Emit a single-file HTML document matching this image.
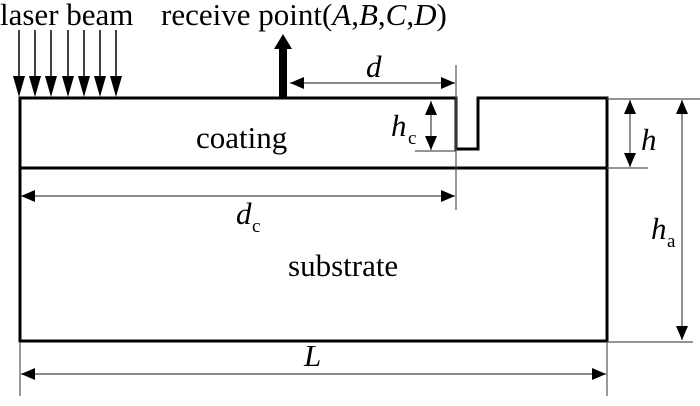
<!DOCTYPE html>
<html><head><style>
body{margin:0;background:#fff}
svg text{font-family:"Liberation Serif",serif;fill:#000}
</style></head><body>
<svg width="700" height="401" viewBox="0 0 700 401" xmlns="http://www.w3.org/2000/svg">
<defs>
<marker id="b" markerWidth="14" markerHeight="12" refX="14" refY="6" orient="auto-start-reverse" markerUnits="userSpaceOnUse" viewBox="0 0 14 12"><path d="M0,0 L14,6 L0,12 Z" fill="#000"/></marker>
</defs>
<g stroke="#000" stroke-width="1.5">
<line x1="19" y1="30" x2="19" y2="80"/>
<line x1="35" y1="30" x2="35" y2="80"/>
<line x1="51" y1="30" x2="51" y2="80"/>
<line x1="68" y1="30" x2="68" y2="80"/>
<line x1="84" y1="30" x2="84" y2="80"/>
<line x1="100" y1="30" x2="100" y2="80"/>
<line x1="116" y1="30" x2="116" y2="80"/>
</g>
<g fill="#000">
<path d="M13,76 H25 L19,97 Z"/>
<path d="M29,76 H41 L35,97 Z"/>
<path d="M45,76 H57 L51,97 Z"/>
<path d="M62,76 H74 L68,97 Z"/>
<path d="M78,76 H90 L84,97 Z"/>
<path d="M94,76 H106 L100,97 Z"/>
<path d="M110,76 H122 L116,97 Z"/>
</g>
<path d="M20,98 H456 V149 H478 V98 H607 V341 H20 Z" fill="none" stroke="#000" stroke-width="3"/>
<line x1="20" y1="168" x2="607" y2="168" stroke="#000" stroke-width="3"/>
<rect x="279" y="48" width="8" height="50" fill="#000"/>
<path d="M274,49 L283,34 L292,49 Z" fill="#000"/>
<g stroke="#555" stroke-width="1.2" fill="none">
<line x1="456" y1="65" x2="456" y2="210"/>
<line x1="415" y1="151" x2="456" y2="151"/>
<line x1="607" y1="99" x2="700" y2="99"/>
<line x1="607" y1="168" x2="648" y2="168"/>
<line x1="607" y1="342" x2="693" y2="342"/>
<line x1="20" y1="342" x2="20" y2="396"/>
<line x1="607" y1="342" x2="607" y2="396"/>
</g>
<g stroke="#444" stroke-width="1.2">
<line x1="290" y1="83" x2="455" y2="83" marker-start="url(#b)" marker-end="url(#b)"/>
<line x1="431" y1="101" x2="431" y2="150" marker-start="url(#b)" marker-end="url(#b)"/>
<line x1="21" y1="196" x2="455" y2="196" marker-start="url(#b)" marker-end="url(#b)"/>
<line x1="630" y1="100" x2="630" y2="167" marker-start="url(#b)" marker-end="url(#b)"/>
<line x1="682" y1="100" x2="682" y2="340" marker-start="url(#b)" marker-end="url(#b)"/>
<line x1="21" y1="374" x2="606" y2="374" marker-start="url(#b)" marker-end="url(#b)"/>
</g>
<text x="0" y="25" font-size="31">laser beam</text>
<text x="161" y="25" font-size="31">receive point(<tspan font-style="italic">A</tspan>,<tspan font-style="italic">B</tspan>,<tspan font-style="italic">C</tspan>,<tspan font-style="italic">D</tspan>)</text>
<text x="366" y="77" font-size="31" font-style="italic">d</text>
<text x="391" y="136" font-size="31" font-style="italic">h</text><text x="408" y="144" font-size="19">c</text>
<text x="196" y="148" font-size="31">coating</text>
<text x="236" y="224" font-size="31" font-style="italic">d</text><text x="252" y="232" font-size="19">c</text>
<text x="288" y="276" font-size="31">substrate</text>
<text x="641" y="150" font-size="31" font-style="italic">h</text>
<text x="651" y="239" font-size="31" font-style="italic">h</text><text x="667" y="247" font-size="19">a</text>
<text x="304" y="366" font-size="31" font-style="italic">L</text>
</svg>
</body></html>
